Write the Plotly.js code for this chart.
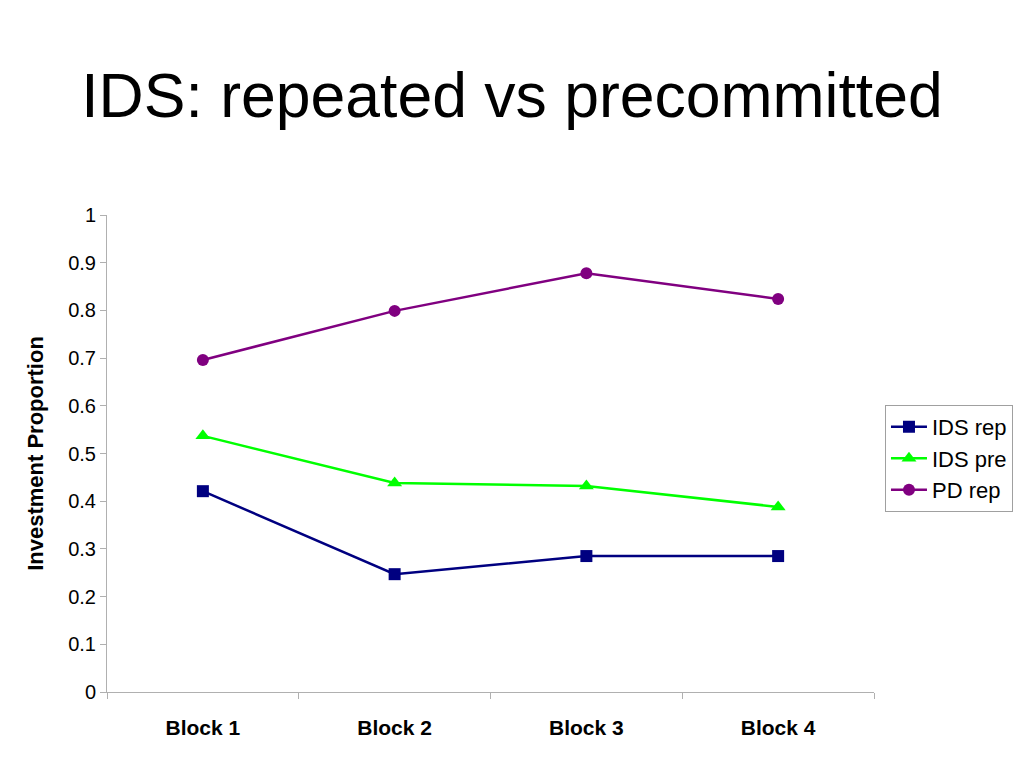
<!DOCTYPE html>
<html>
<head>
<meta charset="utf-8">
<script src="https://cdn.plot.ly/plotly-3.0.1.min.js"></script>
<style>html,body{margin:0;padding:0;background:#fff;}#chart{width:1024px;height:768px;}</style>
</head>
<body>
<div id="chart"></div>
<script>
const categories = ["Block 1", "Block 2", "Block 3", "Block 4"];
const idsRep = [0.421, 0.247, 0.285, 0.285];
const idsPre = [0.537, 0.438, 0.432, 0.388];
const pdRep = [0.696, 0.799, 0.878, 0.824];
const yTicks = [0, 0.1, 0.2, 0.3, 0.4, 0.5, 0.6, 0.7, 0.8, 0.9, 1];
const yTickText = ["0", "0.1", "0.2", "0.3", "0.4", "0.5", "0.6", "0.7", "0.8", "0.9", "1"];

const font = "Liberation Sans, Arial, sans-serif";
const traces = [
  {x: categories, y: idsRep, name: "IDS rep", mode: "lines+markers", type: "scatter",
   line: {color: "#000080", width: 2.5}, marker: {symbol: "square", size: 12, color: "#000080"}},
  {x: categories, y: idsPre, name: "IDS pre", mode: "lines+markers", type: "scatter",
   line: {color: "#00FF00", width: 2.5}, marker: {symbol: "triangle-up", size: 13, color: "#00FF00"}},
  {x: categories, y: pdRep, name: "PD rep", mode: "lines+markers", type: "scatter",
   line: {color: "#800080", width: 2.5}, marker: {symbol: "circle", size: 12, color: "#800080"}}
];
const layout = {
  width: 1024, height: 768,
  margin: {l: 107, r: 149, t: 215, b: 76},
  paper_bgcolor: "#fff", plot_bgcolor: "#fff",
  font: {family: font, color: "#000"},
  title: {text: "IDS: repeated vs precommitted", font: {family: font, size: 62.5, color: "#000"},
          x: 0.5, xref: "container", xanchor: "center", y: 0.848, yref: "container", yanchor: "bottom"},
  xaxis: {type: "category", range: [-0.5, 3.5], showgrid: false, zeroline: false,
          showline: true, linecolor: "#b0b0b0", linewidth: 1,
          ticks: "outside", tickson: "boundaries", ticklen: 6, tickcolor: "#b0b0b0",
          tickfont: {family: font, size: 21, color: "#000", weight: "bold"},
          ticklabelstandoff: 17, fixedrange: true},
  yaxis: {range: [0, 1], tickvals: yTicks, ticktext: yTickText, showgrid: false, zeroline: false,
          showline: true, linecolor: "#b0b0b0", linewidth: 1,
          ticks: "outside", ticklen: 6, tickcolor: "#b0b0b0",
          tickfont: {family: font, size: 20, color: "#000"},
          title: {text: "Investment Proportion", font: {family: font, size: 22, color: "#000", weight: "bold"}, standoff: 18},
          fixedrange: true},
  showlegend: true,
  legend: {x: 1.013, xanchor: "left", y: 0.602, yanchor: "top",
           bordercolor: "#a0a0a0", borderwidth: 1, bgcolor: "#fff",
           font: {family: font, size: 22, color: "#000"}, tracegroupgap: 0, itemwidth: 36}
};
Plotly.newPlot("chart", traces, layout, {displayModeBar: false, staticPlot: true});
</script>
</body>
</html>
